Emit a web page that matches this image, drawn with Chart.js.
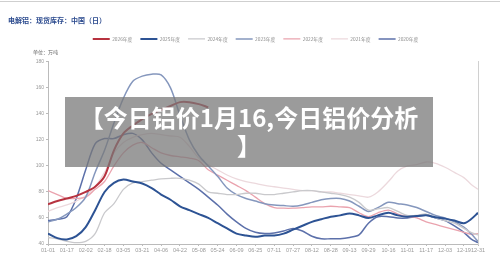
<!DOCTYPE html>
<html>
<head>
<meta charset="utf-8">
<script src="https://cdn.jsdelivr.net/npm/chart.js"></script>
<style>
body { margin: 0; background: #fff; }
#wrap { position: relative; width: 500px; height: 264px; overflow: hidden; background: #fff; }
#chart { position: absolute; left: 0; top: 0; }
.topline { position: absolute; left: 0; top: 1px; width: 500px; height: 1px; background: #cfcfcf; }
.title { position: absolute; left: 8px; top: 15px; font: bold 7px 'Noto Sans CJK SC'; color: #2b4a8e; white-space: nowrap; }
.banner { position: absolute; left: 65px; top: 97px; width: 368px; height: 70px;
  background: rgba(120,120,120,0.74); color: #fff; text-align: center;
  font: bold 24px/28px 'Noto Sans CJK SC'; padding-top: 6px; box-sizing: border-box; white-space: nowrap; }
</style>
</head>
<body>
<div id="wrap">
  <canvas id="chart" width="500" height="264"></canvas>
  <div class="topline"></div>
  <div class="title">电解铝：现货库存：中国（日）</div>
  <div class="banner">【今日铝价1月16,今日铝价分析<br>】</div>
</div>
<script>
// day of year for every sample (leap-year calendar)
const days = [0,8,16,24,32,40,48,56,64,72,80,88,96,104,112,120,128,136,144,152,160,168,176,184,192,200,208,216,224,232,240,248,256,264,272,280,289,297,305,313,321,329,337,345,353,359,365];
const tickDays = [0,16,32,48,64,80,96,112,128,144,160,176,192,208,224,240,256,272,289,305,321,337,353,365];
const tickLabels = ['01-01','01-17','02-02','02-18','03-05','03-21','04-06','04-22','05-08','05-24','06-09','06-25','07-11','07-27','08-12','08-28','09-13','09-29','10-16','11-01','11-17','12-03','12-19','12-31'];

const seriesNames = ['2026年度','2025年度','2024年度','2023年度','2022年度','2021年度','2020年度'];
const seriesColors = ['#b7323f','#2d5394','#c9c9cc','#8597bd','#eaa3ae','#ecd9dd','#5c70aa'];
const seriesWidths = [2,2,1.3,1.5,1.3,1.3,1.5];

// 万吨
const y2026 = [70.5,73,75,77,80,84,92,112,125,131,136,140,143,146,149,149,147.5,145];
const y2025 = [48,44.5,43.5,46,53,66,80,87,89.5,88,86.5,83,78,74,69,66,63,60,56,52,48,46.5,45.5,46.5,46.5,48,51,54,57,59,61,62,63.5,62,60,62,64,62,61,61.5,62,60.5,59.5,58,56,59,64];
const y2024 = [45,44,42,41,42,48,64,71,82,87,88,89,90,90.5,90.5,89,86,80,79,78,78,79,79,78,78,79,80,81,81,80,79,78,76,72,66,67,68,65,62,62,63,60,58,56,52,49,47];
const y2023 = [57,59,63,68,76,95,112,133,152,165,169,170.5,170,160,139,120,108,100,92,83,78,75,73,71,70,69.5,69,70,72,74,75,75,73,69,65,68,72,71,70,68,65,62,60,57,53,48,42];
const y2022 = [81,78,75,75,76,82,88,100,110,116,118,114,110,108,107,106,104,97,93,89,85,81,76,71,68,67.5,67.5,68,68.5,68.5,69,68.5,68,64,61,64,66,63,61,60,57,55,53,51,49,47.5,48];
const y2021 = [65,68,70,73,77,84,95,110,118,122,124,125,124,123,122,115,106,101,97,93,90,88,86.5,85,84,83,82,81,81,80,80,79,78,77,76,80,88,96,100,101,103,102,99,95,91,86,82];
const y2020 = [58,59,61,75,97,117,121,121,124,125,120,110,102,97,92,87,82,76,70,63,57,52,49,48,48.5,50,52,50,46,44,44,44,45,47,56,61,61,60,60,61,62,60,58,54,49,44,41];

const allSeries = [y2026,y2025,y2024,y2023,y2022,y2021,y2020];

chartIt();

function chartIt(){
  const ctx = document.getElementById('chart').getContext('2d');
  const datasets = allSeries.map((vals, i) => ({
    label: seriesNames[i],
    data: vals.map((v, j) => ({x: days[j], y: v})),
    borderColor: seriesColors[i],
    backgroundColor: seriesColors[i],
    borderWidth: seriesWidths[i],
    pointRadius: 0,
    tension: 0.3,
    fill: false
  }));

  new Chart(ctx, {
    type: 'line',
    data: { datasets: datasets },
    options: {
      responsive: false,
      animation: false,
      layout: { padding: { top: 28.5, left: 33, right: 22, bottom: 3 } },
      plugins: {
        legend: {
          position: 'top',
          weight: 1000,
          labels: {
            usePointStyle: true,
            pointStyle: 'line',
            pointStyleWidth: 17,
            padding: 8,
            color: '#8a8a8a',
            font: { size: 4.8, family: "'Noto Sans CJK SC'" }
          }
        },
        title: {
          display: true,
          text: '单位：万吨',
          align: 'start',
          weight: 500,
          color: '#666',
          font: { size: 5, family: "'Noto Sans CJK SC'", weight: 'normal' },
          padding: { top: -2, bottom: 6.5 }
        },
        tooltip: { enabled: false }
      },
      scales: {
        x: {
          type: 'linear',
          min: 0,
          max: 365,
          afterBuildTicks: (scale) => { scale.ticks = tickDays.map(v => ({value: v})); },
          afterFit: (scale) => { scale.height = 17; },
          ticks: {
            autoSkip: false,
            maxRotation: 0,
            padding: 1,
            color: '#999',
            font: { size: 5.5 },
            callback: (v) => tickLabels[tickDays.indexOf(v)]
          },
          grid: { drawOnChartArea: false, drawTicks: true, tickLength: 2, color: '#bbb' },
          border: { color: '#bbb' }
        },
        y: {
          min: 40,
          max: 180,
          afterFit: (scale) => { scale.width = 15; },
          ticks: { stepSize: 20, padding: 2, color: '#999', font: { size: 5 } },
          grid: { drawOnChartArea: false, drawTicks: true, tickLength: 2, color: '#bbb' },
          border: { color: '#bbb' }
        },
        y2: {
          position: 'right',
          min: 40,
          max: 180,
          afterFit: (scale) => { scale.width = 0; },
          ticks: { display: false },
          grid: { drawOnChartArea: false, drawTicks: false },
          border: { color: '#d0d0d0' }
        }
      }
    }
  });
}
</script>
</body>
</html>
